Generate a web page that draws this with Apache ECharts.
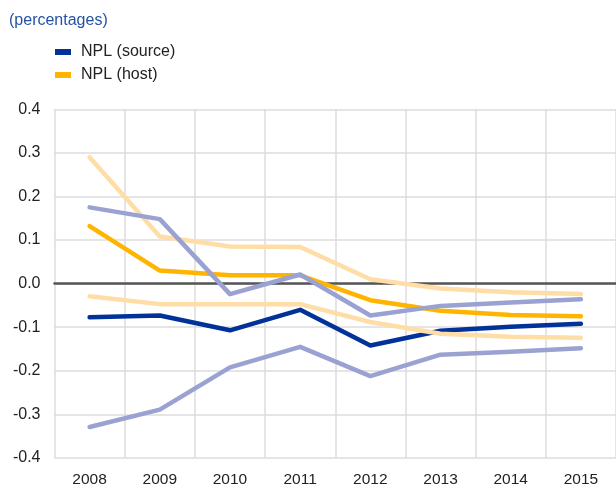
<!DOCTYPE html>
<html>
<head>
<meta charset="utf-8">
<script src="https://cdn.jsdelivr.net/npm/echarts@6/dist/echarts.min.js"></script>
<style>
html,body{margin:0;padding:0;background:#fff;}
#chart{width:616px;height:488px;}
</style>
</head>
<body>
<div id="chart"></div>
<script>
var years = ['2008','2009','2010','2011','2012','2013','2014','2015'];
var nplSource = [-0.077, -0.073, -0.107, -0.060, -0.142, -0.108, -0.099, -0.092];
var nplHost = [0.132, 0.030, 0.019, 0.019, -0.038, -0.062, -0.072, -0.075];
var hostUpper = [0.290, 0.108, 0.085, 0.084, 0.010, -0.011, -0.020, -0.024];
var hostLower = [-0.029, -0.047, -0.047, -0.047, -0.088, -0.115, -0.122, -0.124];
var sourceUpper = [0.175, 0.148, -0.024, 0.021, -0.073, -0.051, -0.043, -0.036];
var sourceLower = [-0.329, -0.289, -0.192, -0.145, -0.212, -0.163, -0.156, -0.148];
var yTicks = [-0.4, -0.3, -0.2, -0.1, 0.0, 0.1, 0.2, 0.3, 0.4];

var FONT = 'Liberation Sans, Arial, sans-serif';
function line(name, data, color, z) {
  return {
    name: name, type: 'line', data: data, symbol: 'none', z: z,
    lineStyle: { color: color, width: 4.5, cap: 'round', join: 'round' },
    itemStyle: { color: color },
    silent: true, animation: false
  };
}
var chart = echarts.init(document.getElementById('chart'), null, { renderer: 'canvas' });
chart.setOption({
  animation: false,
  title: {
    text: '(percentages)', left: 4, top: 8,
    textStyle: { fontFamily: FONT, fontSize: 16, fontWeight: 'normal', color: '#2452A6' }
  },
  legend: {
    data: ['NPL (source)', 'NPL (host)'],
    orient: 'vertical', left: 55, top: 44, padding: 0,
    itemWidth: 16, itemHeight: 6, itemGap: 7, icon: 'rect',
    textStyle: { fontFamily: FONT, fontSize: 16, color: '#222', padding: [0, 0, 0, 5] }
  },
  grid: { left: 54.5, top: 109.3, width: 564, height: 352.4, containLabel: false },
  xAxis: {
    type: 'category', data: years, boundaryGap: true,
    axisLine: { show: true, onZero: true, lineStyle: { color: '#555', width: 2.5 } },
    axisTick: { show: false },
    axisLabel: { fontFamily: FONT, fontSize: 15.5, color: '#222', margin: 14 },
    splitLine: { show: true, lineStyle: { color: '#dcdcdc', width: 1.5 } }
  },
  yAxis: {
    type: 'value', min: -0.4, max: 0.4, interval: 0.1,
    axisLine: { show: false }, axisTick: { show: false },
    axisLabel: {
      fontFamily: FONT, fontSize: 16, color: '#222', margin: 14,
      formatter: function (v) { return v.toFixed(1); }
    },
    splitLine: { show: true, lineStyle: { color: '#dcdcdc', width: 1.5 } }
  },
  series: [
    line('NPL (source)', nplSource, '#003299', 2),
    line('NPL (host)', nplHost, '#FFB400', 3),
    line('Host upper', hostUpper, '#FFDDA6', 4),
    line('Host lower', hostLower, '#FFDDA6', 4),
    line('Source upper', sourceUpper, '#9AA2D2', 5),
    line('Source lower', sourceLower, '#9AA2D2', 5)
  ]
});
</script>
</body>
</html>
